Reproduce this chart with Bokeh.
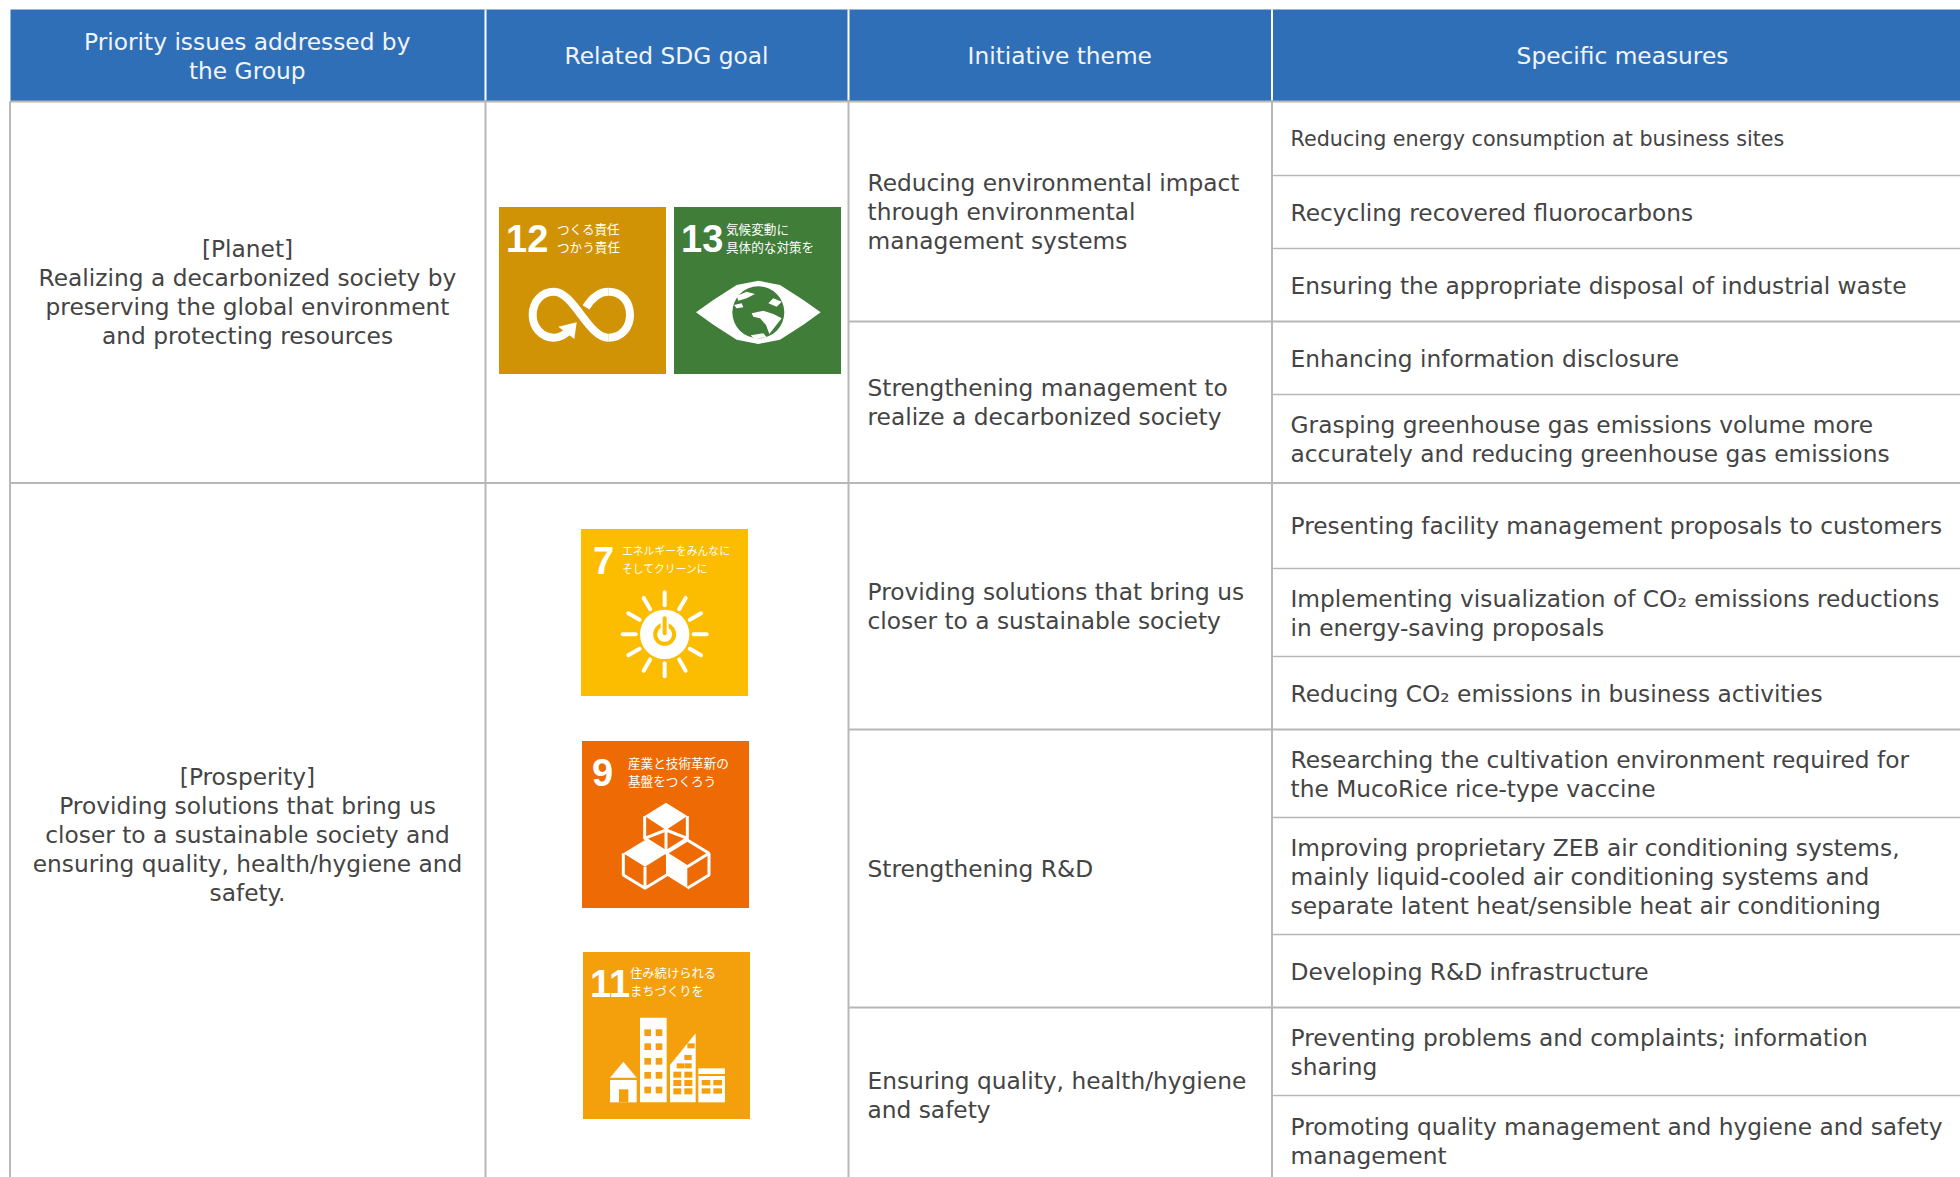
import numpy as np
from bokeh.plotting import figure
from bokeh.models import Range1d
from bokeh.core.properties import value
from bokeh.embed import file_html
from bokeh.resources import INLINE

# ---------- table content ----------
headers = [["Priority issues addressed by", "the Group"], ["Related SDG goal"],
           ["Initiative theme"], ["Specific measures"]]
priorities = [["[Planet]", "Realizing a decarbonized society by",
               "preserving the global environment", "and protecting resources"],
              ["[Prosperity]", "Providing solutions that bring us",
               "closer to a sustainable society and",
               "ensuring quality, health/hygiene and", "safety."]]
themes = [["Reducing environmental impact", "through environmental", "management systems"],
          ["Strengthening management to", "realize a decarbonized society"],
          ["Providing solutions that bring us", "closer to a sustainable society"],
          ["Strengthening R&D"],
          ["Ensuring quality, health/hygiene", "and safety"]]
measures = [["Reducing energy consumption at business sites"],
            ["Recycling recovered fluorocarbons"],
            ["Ensuring the appropriate disposal of industrial waste"],
            ["Enhancing information disclosure"],
            ["Grasping greenhouse gas emissions volume more",
             "accurately and reducing greenhouse gas emissions"],
            ["Presenting facility management proposals to customers"],
            ["Implementing visualization of CO₂ emissions reductions",
             "in energy-saving proposals"],
            ["Reducing CO₂ emissions in business activities"],
            ["Researching the cultivation environment required for",
             "the MucoRice rice-type vaccine"],
            ["Improving proprietary ZEB air conditioning systems,",
             "mainly liquid-cooled air conditioning systems and",
             "separate latent heat/sensible heat air conditioning"],
            ["Developing R&D infrastructure"],
            ["Preventing problems and complaints; information", "sharing"],
            ["Promoting quality management and hygiene and safety", "management"]]
sdg_numbers = ["12", "13", "7", "9", "11"]
sdg_titles = [["つくる責任", "つかう責任"], ["気候変動に", "具体的な対策を"],
              ["エネルギーをみんなに", "そしてクリーンに"], ["産業と技術革新の", "基盤をつくろう"],
              ["住み続けられる", "まちづくりを"]]
sdg_colors = ["#d19306", "#3f7d39", "#fcbc00", "#ed6a05", "#f4a00c"]

# ---------- layout ----------
W, H = 1960, 1177
col_x = [9.5, 485, 848, 1271.5, 1960]
row_y = [101, 175, 248, 321, 394, 482.5, 568, 656, 729, 817, 934, 1007, 1095, 1186]
theme_rows = [0, 3, 5, 8, 11, 13]
prio_rows = [0, 5, 13]
theme_dy = [-0.5, 0.2, 0.2, 0.2, -2.2]
HEAD = "#2f6fb7"; LINE = "#b7b7b7"; TXT = "#444444"; HTXT = "#f1f5fb"
FONT = "DejaVu Sans"; SZ = "23.3px"; LH = 29

p = figure(width=W, height=H, output_backend="svg", toolbar_location=None,
           x_range=Range1d(0, W), y_range=Range1d(H, 0), min_border=0,
           outline_line_color=None, background_fill_color="white")
p.axis.visible = False
p.grid.visible = False

# header
p.quad(left=[10], right=[W], top=[9], bottom=[100.5], fill_color=HEAD, line_color=None)
p.segment(x0=col_x[1:4], x1=col_x[1:4], y0=[9] * 3, y1=[100] * 3, line_color="white", line_width=2)

# rules
p.segment(x0=col_x[:4], x1=col_x[:4], y0=[101] * 4, y1=[H] * 4, line_color=LINE, line_width=2)
p.segment(x0=[col_x[0]], x1=[W], y0=[101], y1=[101], line_color=LINE, line_width=2)
for i, y in enumerate(row_y[1:-1], 1):
    if i in prio_rows:
        p.segment(x0=[col_x[0]], x1=[W], y0=[y], y1=[y], line_color=LINE, line_width=2)
    elif i in theme_rows:
        p.segment(x0=[col_x[2]], x1=[W], y0=[y], y1=[y], line_color=LINE, line_width=2)
    else:
        p.segment(x0=[col_x[3]], x1=[W], y0=[y], y1=[y], line_color=LINE, line_width=1.5)


def put(lines, x, yc, align="left", color=TXT, size=SZ, font=FONT, lh=LH, style="normal"):
    ys = [yc + (k - (len(lines) - 1) / 2) * lh for k in range(len(lines))]
    p.text(x=[x] * len(lines), y=ys, text=lines, text_align=align, text_baseline="middle",
           text_color=color, text_font=value(font), text_font_size=size, text_font_style=style)


for j, h in enumerate(headers):
    put(h, (col_x[j] + col_x[j + 1]) / 2 - 0.5 if j < 3 else 1622, 55, "center", HTXT)
for k, t in enumerate(priorities):
    yc = (row_y[prio_rows[k]] + row_y[prio_rows[k + 1]]) / 2
    put(t, 247, yc, "center")
for k, t in enumerate(themes):
    yc = (row_y[theme_rows[k]] + row_y[theme_rows[k + 1]]) / 2
    put(t, 867, yc + theme_dy[k])
for k, t in enumerate(measures):
    yc = (row_y[k] + row_y[k + 1]) / 2
    put(t, 1290, yc, size="20.7px" if k == 0 else SZ)

# ---------- SDG icons ----------
squares = [(498.5, 206.5), (673.5, 206.5), (580.5, 528.5), (581.5, 740.5), (582.5, 951.5)]
S = 167
p.quad(left=[s[0] for s in squares], right=[s[0] + S for s in squares],
       top=[s[1] for s in squares], bottom=[s[1] + S for s in squares],
       fill_color=sdg_colors, line_color=None)

num_x = [7, 7, 12, 10, 7]
title_cfg = [(58, 12.6), (52, 12.6), (41, 10.8), (46, 12.6), (47, 12.3)]
for k, (sq, n, t) in enumerate(zip(squares, sdg_numbers, sdg_titles)):
    p.text(x=[sq[0] + num_x[k]], y=[sq[1] + 31], text=[n], text_align="left",
           text_baseline="middle", text_color="white", text_font=value("Liberation Sans"),
           text_font_size="38px", text_font_style="bold")
    fs = f"{title_cfg[k][1]}px"
    p.text(x=[sq[0] + title_cfg[k][0]] * 2, y=[sq[1] + 21, sq[1] + 39], text=t, text_align="left",
           text_baseline="middle", text_color="white", text_font=value("Noto Sans CJK JP"),
           text_font_size=fs)


def zpts(o, xs, ys):
    return o[0] + np.array(xs, float) / 3, o[1] + np.array(ys, float) / 3


# 12 infinity (outline)
o = (479.5, 189.5)
seg = [((270, 418), (255, 435), (240, 443), (222, 443)),
       ((222, 443), (185, 443), (158, 412), (158, 375)),
       ((158, 375), (158, 335), (185, 305), (222, 305)),
       ((222, 305), (280, 305), (325, 443), (385, 443)),
       ((385, 443), (425, 443), (450, 412), (450, 375)),
       ((450, 375), (450, 335), (425, 305), (385, 305)),
       ((385, 305), (355, 305), (335, 325), (318, 352))]
for a, b, c, d in seg:
    X, Y = zpts(o, [a[0], b[0], c[0], d[0]], [a[1], b[1], c[1], d[1]])
    p.bezier(x0=[X[0]], y0=[Y[0]], cx0=[X[1]], cy0=[Y[1]], cx1=[X[2]], cy1=[Y[2]], x1=[X[3]], y1=[Y[3]],
             line_color="white", line_width=8)
X, Y = zpts(o, [290, 235, 283], [397, 410, 447])
p.patch(X, Y, fill_color="white", line_color=None)

# 13 eye
lx = [648, 700, 770, 835, 900, 970, 1022, 970, 900, 835, 770, 700]
ly = [367, 330, 285, 272, 285, 330, 367, 404, 449, 462, 449, 404]
X, Y = zpts(o, lx, ly)
p.patch(X, Y, fill_color="white", line_color=None)
cx, cy = zpts(o, [835], [367])
p.circle(x=cx, y=cy, radius=26, fill_color="#3f7d39", line_color=None)
blobs = [([770, 800, 825, 800, 775], [318, 305, 312, 325, 332]),
         ([762, 785, 790, 770], [345, 340, 352, 355]),
         ([815, 850, 880, 905, 885, 868, 858, 840, 820], [370, 362, 372, 385, 410, 432, 405, 385, 380]),
         ([812, 850, 860, 822], [436, 430, 442, 446]),
         ([865, 890, 905, 880], [340, 350, 335, 325])]
for bx, by in blobs:
    X, Y = zpts(o, bx, by)
    p.patch(X, Y, fill_color="white", line_color=None)

# 7 sun
o = (559.5, 509.5)
cx, cy = zpts(o, [314], [373])
p.circle(x=cx, y=cy, radius=24.7, fill_color="white", line_color=None)
p.circle(x=cx, y=cy, radius=9.5, fill_color=None, line_color=sdg_colors[2], line_width=4)
p.segment(x0=cx, x1=cx, y0=cy - 14, y1=cy - 3, line_color="white", line_width=8)
p.segment(x0=cx, x1=cx, y0=cy - 16, y1=cy - 1, line_color=sdg_colors[2], line_width=4, line_cap="round")
ang = np.deg2rad(np.arange(0, 360, 30))
p.segment(x0=cx + 29 * np.cos(ang), y0=cy + 29 * np.sin(ang), x1=cx + 42 * np.cos(ang), y1=cy + 42 * np.sin(ang),
          line_color="white", line_width=4, line_cap="round")

# 9 cubes
o = (559.5, 729.5)
WHITE_FACES = [([318, 382, 318, 254], [218, 258, 300, 258]),
               ([255, 320, 255, 190], [330, 370, 410, 370]),
               ([318, 382, 382, 318], [370, 410, 475, 435])]
for fx, fy in WHITE_FACES:
    X, Y = zpts(o, fx, fy)
    p.patch(X, Y, fill_color="white", line_color=None)
edges = [([254, 254, 318, 382, 382], [258, 325, 365, 325, 258]), ([318, 318], [300, 365]),
         ([190, 190, 255, 320], [370, 435, 475, 435]), ([255, 255], [410, 475]),
         ([318, 382, 447, 382, 318], [370, 330, 370, 410, 370]),
         ([447, 447, 382], [370, 435, 475]),
         ([254, 318], [325, 300]), ([382, 318], [325, 300])]
for ex, ey in edges:
    X, Y = zpts(o, ex, ey)
    p.line(X, Y, line_color="white", line_width=3)

# 11 buildings
o = (559.5, 939.5)
C = sdg_colors[4]
def box(x0, x1, y0, y1, col="white"):
    a, b = zpts(o, [x0, x1], [y0, y1])
    p.quad(left=[a[0]], right=[a[1]], top=[b[0]], bottom=[b[1]], fill_color=col, line_color=None)
box(240, 320, 233, 487)
for r in [268, 310, 354, 396, 440]:
    for c in [253, 287]:
        box(c, c + 20, r, r + 20, C)
X, Y = zpts(o, [150, 190, 230], [413, 365, 413])
p.patch(X, Y, fill_color="white", line_color=None)
box(150, 230, 420, 487)
box(177, 205, 448, 487, C)
X, Y = zpts(o, [330, 405, 407, 407, 330], [375, 282, 282, 487, 487])
p.patch(X, Y, fill_color="white", line_color=None)
for r in [395, 420, 445]:
    for c in [340, 373]:
        box(c, c + 24, r, r + 18, C)
for c, r in [(373, 345), (373, 370), (350, 370), (382, 310)]:
    box(c, c + 22, r, r + 15, C)
box(415, 495, 385, 487)
box(415, 495, 402, 408, C)
for r in [420, 445]:
    for c in [425, 460]:
        box(c, c + 26, r, r + 16, C)

open("out.html", "w").write(file_html(p, INLINE))
